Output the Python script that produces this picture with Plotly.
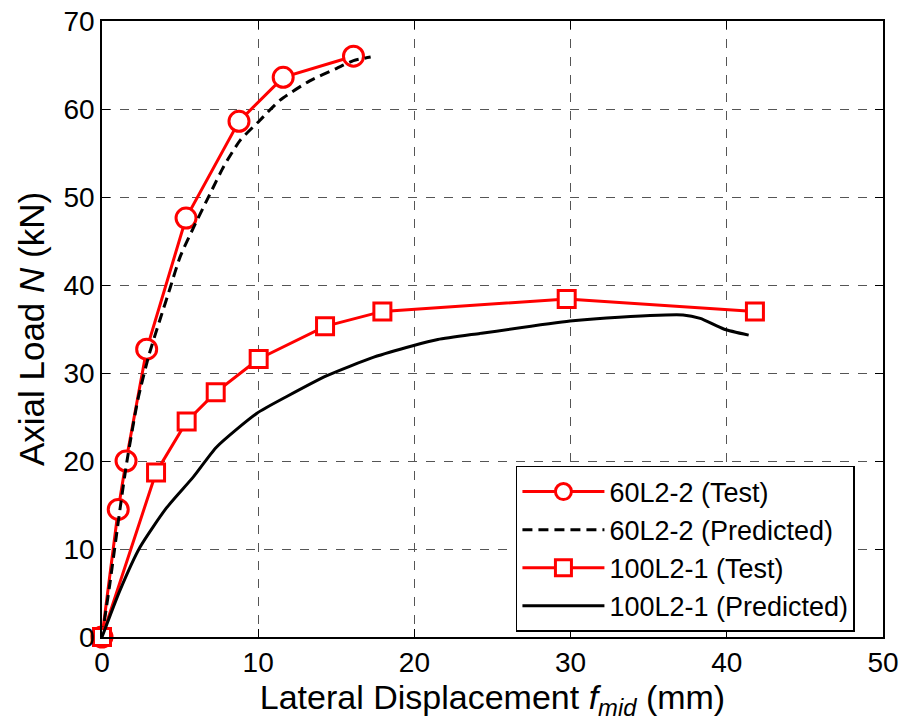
import plotly.graph_objects as go

# 60L2-2 test (circles)
t60_x = [0, 1.04, 1.54, 2.86, 5.38, 8.77, 11.6, 16.1]
t60_y = [0, 14.5, 20.0, 32.7, 47.6, 58.6, 63.6, 66.0]
# 60L2-2 predicted (dashed)
p60_x = [0, 0.5, 1.15, 1.6, 2.3, 3.0, 3.7, 4.35, 5.0, 5.85, 6.9, 7.8, 8.83, 10.1, 11.4, 13.3, 15.0, 16.1, 17.2]
p60_y = [0, 6.0, 14.5, 20.0, 27.0, 32.0, 36.0, 39.6, 43.2, 46.5, 50.3, 53.5, 56.4, 58.7, 61.0, 63.2, 64.6, 65.5, 65.9]
# 100L2-1 test (squares)
t100_x = [0, 3.46, 5.42, 7.28, 10.03, 14.28, 17.95, 29.75, 41.8]
t100_y = [0, 18.7, 24.5, 27.8, 31.6, 35.3, 37.0, 38.4, 37.0]
# 100L2-1 predicted (solid)
p100_x = [0, 1.15, 2.43, 4.14, 5.85, 7.34, 9.9, 11.8, 14.4, 17.4, 19.9, 21.5, 24.2, 29.96, 32.3, 37.2, 38.3, 39.8, 41.4]
p100_y = [0, 5.3, 10.2, 14.7, 18.2, 21.6, 25.4, 27.3, 29.7, 31.8, 33.1, 33.8, 34.5, 35.9, 36.25, 36.6, 36.2, 35.0, 34.3]

x_ticks = [0, 10, 20, 30, 40, 50]
y_ticks = [0, 10, 20, 30, 40, 50, 60, 70]

FONT = "Liberation Sans, Arial, sans-serif"
RED = "#ff0000"

fig = go.Figure()
fig.add_trace(go.Scatter(x=t60_x, y=t60_y, mode="lines+markers", name="60L2-2 (Test)",
                         cliponaxis=False,
                         line=dict(color=RED, width=3),
                         marker=dict(symbol="circle", size=20, color="white",
                                     line=dict(color=RED, width=3))))
fig.add_trace(go.Scatter(x=p60_x, y=p60_y, mode="lines", name="60L2-2 (Predicted)",
                         cliponaxis=False,
                         line=dict(color="black", width=3, dash="10px,6px", shape="spline", smoothing=0.6)))
fig.add_trace(go.Scatter(x=t100_x, y=t100_y, mode="lines+markers", name="100L2-1 (Test)",
                         cliponaxis=False,
                         line=dict(color=RED, width=3),
                         marker=dict(symbol="square", size=17, color="white",
                                     line=dict(color=RED, width=3))))
fig.add_trace(go.Scatter(x=p100_x, y=p100_y, mode="lines", name="100L2-1 (Predicted)",
                         cliponaxis=False,
                         line=dict(color="black", width=3, shape="spline", smoothing=0.6)))

axis_common = dict(
    showline=True, linecolor="black", linewidth=1.5, mirror="ticks",
    ticks="inside", ticklen=8, tickwidth=1.2, tickcolor="black",
    showgrid=True, gridcolor="#555555", gridwidth=1, griddash="dash",
    zeroline=False, tickfont=dict(family=FONT, size=28, color="black"),
)

fig.update_xaxes(range=[0, 50], tickvals=x_ticks, **axis_common,
                 title=dict(text="Lateral Displacement <i>f</i><sub><i>mid</i></sub> (mm)",
                            font=dict(family=FONT, size=34, color="black"), standoff=4))
fig.update_yaxes(range=[0, 70], tickvals=y_ticks, **axis_common,
                 title=dict(text="Axial Load <i>N</i> (kN)",
                            font=dict(family=FONT, size=35, color="black"), standoff=8))

fig.update_layout(
    width=904, height=727,
    margin=dict(l=102, r=21, t=21, b=90, autoexpand=False),
    plot_bgcolor="white", paper_bgcolor="white",
    font=dict(family=FONT, color="black"),
    legend=dict(x=0.530, y=0.2776, xanchor="left", yanchor="top",
                bgcolor="white", bordercolor="black", borderwidth=1.5,
                font=dict(family=FONT, size=27, color="black"),
                itemwidth=82, tracegroupgap=0),
    showlegend=True,
)

fig.write_html("out.html")
